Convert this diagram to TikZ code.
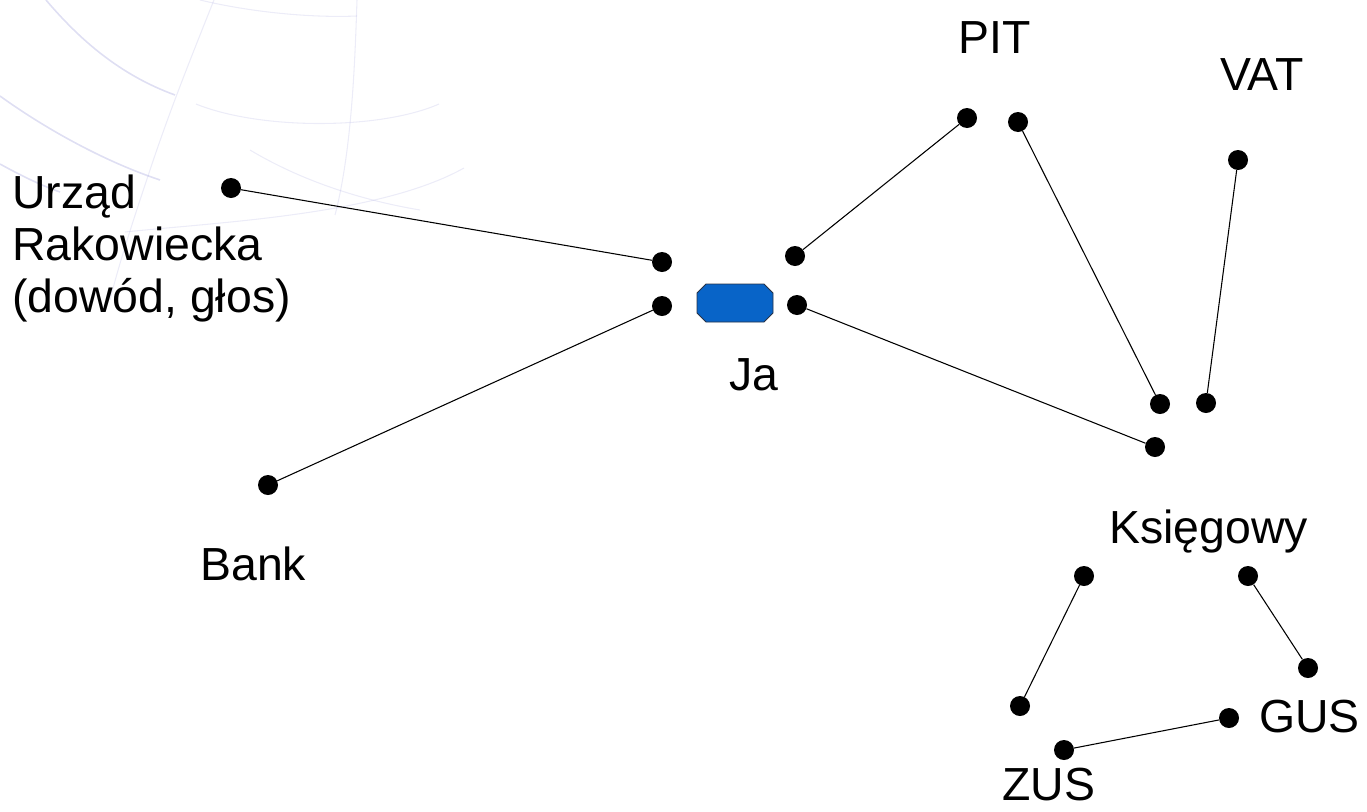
\documentclass[tikz,border=0pt]{standalone}
\usepackage{fontspec}
\setmainfont{Liberation Sans}
\definecolor{jablue}{RGB}{8,100,200}
\definecolor{jaedge}{RGB}{40,50,70}
\definecolor{globe}{RGB}{150,150,215}
\tikzset{
  dot/.style={circle,fill=black,inner sep=0pt,minimum size=15pt},
  link/.style={draw=black,line width=0.8pt},
  lbl/.style={inner sep=0pt,anchor=base west,font=\fontsize{34.8pt}{39pt}\selectfont},
  globeline/.style={draw=globe,line width=1.2pt,opacity=0.3},
  globethin/.style={draw=globe,line width=0.8pt,opacity=0.18},
  jabox/.style={fill=jablue,draw=jaedge,line width=0.6pt},
}
\begin{document}
\begin{tikzpicture}[x=0.75pt,y=-0.75pt]
\useasboundingbox (0,0) rectangle (1367,811);
% faint globe background
\draw[globeline] (46,0) .. controls (80,40) and (120,75) .. (175,95);
\draw[globeline] (0,96) .. controls (40,125) and (100,160) .. (160,180);
\draw[globeline] (0,164) .. controls (20,175) and (40,185) .. (60,192);
\draw[globethin] (214,0) .. controls (190,60) and (170,110) .. (150,170) .. controls (135,215) and (120,260) .. (110,300);
\draw[globethin] (357,0) .. controls (355,60) and (352,150) .. (335,215);
\draw[globethin] (196,104) .. controls (260,130) and (380,130) .. (439,104);
\draw[globethin] (125,232) .. controls (220,222) and (380,215) .. (464,168);
\draw[globethin] (200,0) .. controls (250,12) and (310,18) .. (357,16);
\draw[globethin] (250,150) .. controls (300,180) and (360,200) .. (420,210);

% Ja (chamfered box)
\draw[jabox] (706,284) -- (764,284) -- (773,293) -- (773,313) -- (764,322) -- (706,322) -- (697,313) -- (697,293) -- cycle;
\coordinate (ja) at (735,303);

% dots
\node[dot] (urzad) at (231,188) {};
\node[dot] (jalt) at (662,262) {};
\node[dot] (jalb) at (662,306) {};
\node[dot] (jart) at (795,256) {};
\node[dot] (jarb) at (797,305) {};
\node[dot] (pita) at (967,118) {};
\node[dot] (pitb) at (1018,122) {};
\node[dot] (vat) at (1238,160) {};
\node[dot] (ksa) at (1160,404) {};
\node[dot] (ksb) at (1206,403) {};
\node[dot] (ksc) at (1155,447) {};
\node[dot] (bank) at (268,485) {};
\node[dot] (ka) at (1084,576) {};
\node[dot] (kb) at (1248,576) {};
\node[dot] (gusa) at (1308,668) {};
\node[dot] (zusa) at (1020,706) {};
\node[dot] (gusb) at (1229,718) {};
\node[dot] (zusb) at (1064,750) {};

% links
\draw[link] (urzad) -- (jalt);
\draw[link] (bank) -- (jalb);
\draw[link] (jart) -- (pita);
\draw[link] (jarb) -- (ksc);
\draw[link] (pitb) -- (ksa);
\draw[link] (vat) -- (ksb);
\draw[link] (ka) -- (zusa);
\draw[link] (kb) -- (gusa);
\draw[link] (gusb) -- (zusb);

% labels
\node[lbl,anchor=north west,align=left] (lurzad) at (12,175) {Urząd\\Rakowiecka\\(dowód, głos)};
\node[lbl] (lpit) at (958,53) {PIT};
\node[lbl] (lvat) at (1220,90) {VAT};
\node[lbl] (lja) at (729,390) {Ja};
\node[lbl] (lbank) at (200,580) {Bank};
\node[lbl] (lks) at (1109,543) {Księgowy};
\node[lbl] (lgus) at (1259,732) {GUS};
\node[lbl] (lzus) at (1002,800) {ZUS};
\end{tikzpicture}
\end{document}
